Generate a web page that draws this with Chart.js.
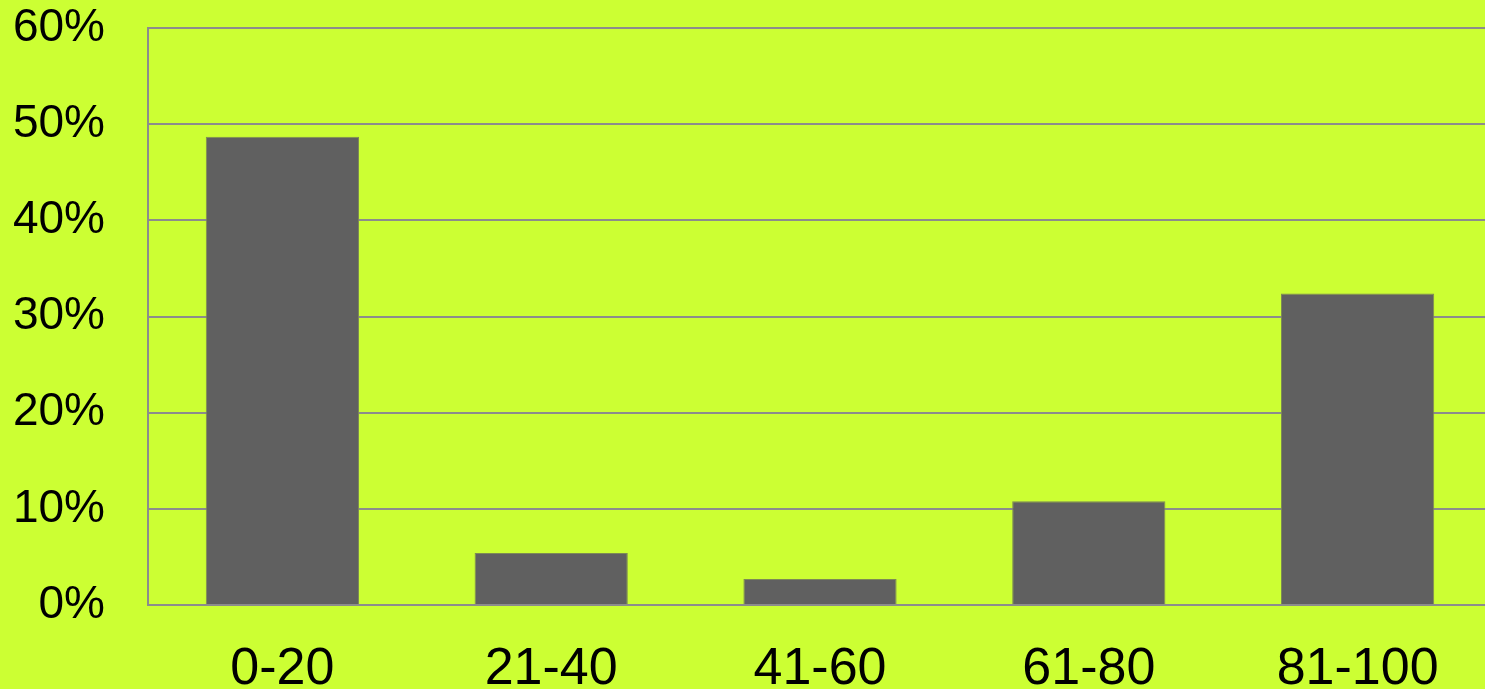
<!DOCTYPE html>
<html>
<head>
<meta charset="utf-8">
<script src="https://cdn.jsdelivr.net/npm/chart.js@4"></script>
<style>
  html, body { margin: 0; padding: 0; background: #CCFF33; overflow: hidden; }
  #wrap { width: 1492px; height: 689px; position: relative; }
</style>
</head>
<body>
<div id="wrap"><canvas id="c"></canvas></div>
<script>
const categories = ["0-20", "21-40", "41-60", "61-80", "81-100"];
const values = [48.7, 5.4, 2.7, 10.8, 32.4];
const yTicks = [0, 10, 20, 30, 40, 50, 60];

const fam = "'Liberation Sans', Arial, sans-serif";

new Chart(document.getElementById('c'), {
  type: 'bar',
  data: {
    labels: categories,
    datasets: [{
      data: values,
      backgroundColor: '#606060',
      borderColor: '#7d8a55',
      borderWidth: 1,
      categoryPercentage: 1,
      barPercentage: 0.57
    }]
  },
  options: {
    responsive: true,
    maintainAspectRatio: false,
    animation: false,
    layout: { padding: { top: 28, right: 0, left: 0, bottom: 0 } },
    plugins: { legend: { display: false }, tooltip: { enabled: false } },
    scales: {
      x: {
        grid: { display: false, drawTicks: false },
        border: { display: true, color: '#8c8c8c', width: 2 },
        ticks: { color: '#000', font: { family: fam, size: 52 }, padding: 33, maxRotation: 0 },
        afterFit: (s) => { s.height = 84; s.paddingLeft = 0; s.paddingRight = 0; }
      },
      y: {
        min: 0, max: 60,
        afterBuildTicks: (s) => { s.ticks = yTicks.map(v => ({ value: v })); },
        grid: { color: '#8c8c8c', lineWidth: 2, drawTicks: false },
        border: { display: true, color: '#8c8c8c', width: 2 },
        ticks: { color: '#000', font: { family: fam, size: 46 }, padding: 43, callback: (v) => v + '%' },
        afterFit: (s) => { s.width = 148; s.paddingTop = 0; s.paddingBottom = 0; }
      }
    }
  }
});
</script>
</body>
</html>
